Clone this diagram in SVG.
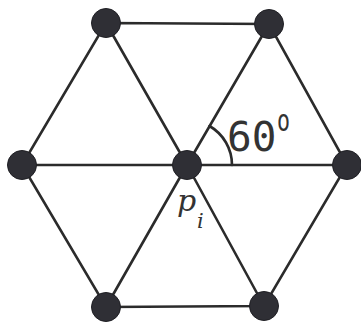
<svg xmlns="http://www.w3.org/2000/svg" width="361" height="322" viewBox="0 0 361 322">
<style>
.edge{stroke:#2b2b2b;stroke-width:2.6;fill:none;stroke-linecap:round}
.node{fill:#2f2f35;stroke:#1f1f24;stroke-width:1}
.lab{fill:#333;font-family:"DejaVu Sans Mono",monospace}
.math{fill:#333;font-family:"DejaVu Serif",serif;font-style:italic}
</style>
<rect width="361" height="322" fill="#fff"/>
<g id="connectors">
<path class="edge" d="M106,23 L269,24 L347,165 L264,306 L106,307 L22,165 Z"/>
<path class="edge" d="M187,165 L106,23 M187,165 L269,24 M187,165 L22,165 M187,165 L347,165 M187,165 L106,307 M187,165 L264,306"/>
<path class="edge" d="M209.5,126 A45,45 0 0 1 232,165" stroke-width="2"/>
</g>
<g id="n-tl"><circle class="node" cx="106" cy="23" r="14.5"/></g>
<g id="n-tr"><circle class="node" cx="269" cy="24" r="14.5"/></g>
<g id="n-l"><circle class="node" cx="22" cy="165" r="14.5"/></g>
<g id="n-c"><circle class="node" cx="187" cy="165" r="14.5"/></g>
<g id="n-r"><circle class="node" cx="347" cy="165" r="14.5"/></g>
<g id="n-bl"><circle class="node" cx="106" cy="307" r="14.5"/></g>
<g id="n-br"><circle class="node" cx="264" cy="306" r="14.5"/></g>
<g id="labels">
<text class="lab" x="227" y="151" font-size="41">60</text>
<text class="lab" x="277" y="131" font-size="30" textLength="13" lengthAdjust="spacingAndGlyphs">o</text>
<text class="math" x="177" y="211" font-size="30">p</text>
<text class="math" x="197" y="228" font-size="21">i</text>
</g>
</svg>
